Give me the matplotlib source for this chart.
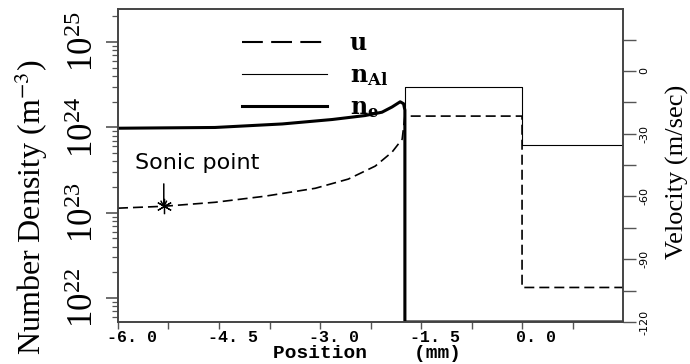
import numpy as np
import matplotlib.pyplot as plt
import matplotlib.transforms as mtransforms
from matplotlib.lines import Line2D
from matplotlib.ticker import LogLocator, NullFormatter, FuncFormatter

plt.rcParams['mathtext.fontset'] = 'stix'
plt.rcParams['font.family'] = ['Liberation Serif', 'DejaVu Serif']

# electron density n_e (m^-3)
pos_ne = [-6.0, -4.56, -3.56, -2.82, -2.33, -2.08, -1.93, -1.81, -1.76, -1.74, -1.74, 1.5]
dens_ne = [0.98e24, 1.0e24, 1.1e24, 1.24e24, 1.38e24, 1.51e24, 1.74e24, 2.0e24, 1.9e24, 1.6e24, 5.25e21, 5.25e21]

# aluminium density n_Al (m^-3)
pos_al = [-6.0, -1.74, -1.74, 0.0, 0.0, 1.5]
dens_al = [1e21, 1e21, 2.95e24, 2.95e24, 6.2e23, 6.2e23]

# flow velocity u (m/sec)
pos_u = [-6.0, -5.32, -4.56, -3.82, -3.07, -2.58, -2.18, -1.93, -1.78, -1.74, 0.0, 0.0, 1.5]
vel_u = [-65.6, -64.7, -62.8, -59.9, -56.1, -51.7, -45.5, -38.8, -32.6, -21.6, -21.6, -103.5, -103.5]

sonic_pos, sonic_vel = -5.32, -64.7

xticks = [-6.0, -4.5, -3.0, -1.5, 0.0]
xticklabels = ['-6. 0', '-4. 5', '-3. 0', '-1. 5', '0. 0']
vticks = [-120, -105, -90, -75, -60, -45, -30, -15, 0, 15]

fig = plt.figure(figsize=(6.9, 3.64), dpi=100)
ax = fig.add_axes([0.171, 0.1154, 0.732, 0.86])
ax2 = ax.twinx()

ax.plot(pos_al, dens_al, color='black', lw=0.8)
ax.plot(pos_ne, dens_ne, color='black', lw=2.2, solid_joinstyle='round')
ax.set_yscale('log')
ax.set_ylim(5.25e21, 2.45e25)
ax.set_xlim(-6.0, 1.5)

ax2.plot(pos_u, vel_u, color='black', lw=1.2, linestyle=(0, (6, 3)))
ax2.set_ylim(-120, 29.6)

# sonic point
ax2.plot(sonic_pos, sonic_vel, marker=(6, 2, 0), ms=11, mew=0.9, color='black')
ax2.annotate('', xy=(sonic_pos, sonic_vel - 1), xytext=(sonic_pos, -54),
             arrowprops=dict(arrowstyle='->', lw=1.1, color='black', shrinkA=0, shrinkB=0))
ax2.text(-5.75, -47, 'Sonic point', family='DejaVu Sans', fontsize=16, va='baseline')

# spines / ticks
for a in (ax, ax2):
    for s in a.spines.values():
        s.set_color('#444444')
        s.set_linewidth(1.2)

ax.set_xticks(xticks)
ax.set_xticklabels(xticklabels, family='Liberation Mono', weight='bold', fontsize=12)
ax.set_xticks(np.arange(-5.25, 1.5, 1.5), minor=True)
ax.tick_params(axis='x', which='both', direction='out', length=5, width=1, color='#555555', pad=1)
shift = mtransforms.ScaledTranslation(0.14, 0, fig.dpi_scale_trans)
for lab in ax.get_xticklabels():
    lab.set_transform(lab.get_transform() + shift)

ax.yaxis.set_major_locator(LogLocator(base=10, numticks=10))
ax.yaxis.set_minor_locator(LogLocator(base=10, subs=np.arange(2, 10), numticks=20))
ax.yaxis.set_minor_formatter(NullFormatter())
ax.tick_params(axis='y', which='major', direction='out', length=9, width=1.2, color='#555555',
               labelsize=25, labelrotation=90, pad=3)
ax.tick_params(axis='y', which='minor', direction='out', length=4.5, width=0.9, color='#555555')
for lab in ax.get_yticklabels():
    lab.set_va('center')

ax2.set_yticks(vticks)
ax2.yaxis.set_major_formatter(FuncFormatter(lambda v, p: '%d' % v if v % 30 == 0 else ''))
ax2.tick_params(axis='y', direction='out', length=9, width=1, color='#555555',
                labelsize=8, labelrotation=90, pad=3)
for lab in ax2.get_yticklabels():
    lab.set_family('DejaVu Sans')
    lab.set_va('center')

ax.set_xlabel('Position    (mm)', family='Liberation Mono', weight='bold', fontsize=14)
ax.xaxis.set_label_coords(0.493, -0.10)
ax.xaxis.label.set_va('center')

ax.set_ylabel('Number Density (m$^{-3}$)', fontsize=23, va='center')
ax.yaxis.set_label_coords(-0.171, 0.367)
ax2.set_ylabel('Velocity (m/sec)', fontsize=19, rotation=90, va='center')
ax2.yaxis.set_label_coords(1.107, 0.48)

# legend
handles = [Line2D([], [], color='black', lw=1.5, linestyle=(0, (10, 4))),
           Line2D([], [], color='black', lw=0.8),
           Line2D([], [], color='black', lw=2.2)]
labels = ['u', r'n$_{\mathregular{Al}}$', r'n$_{\mathregular{e}}$']
ax2.legend(handles, labels, loc='upper left', bbox_to_anchor=(0.246, 0.928), frameon=False,
           handlelength=3.6, handletextpad=0.95, labelspacing=0.33, borderpad=0, borderaxespad=0,
           prop={'family': 'DejaVu Serif', 'weight': 'bold', 'size': 17})

fig.savefig('out.png', dpi=100)
